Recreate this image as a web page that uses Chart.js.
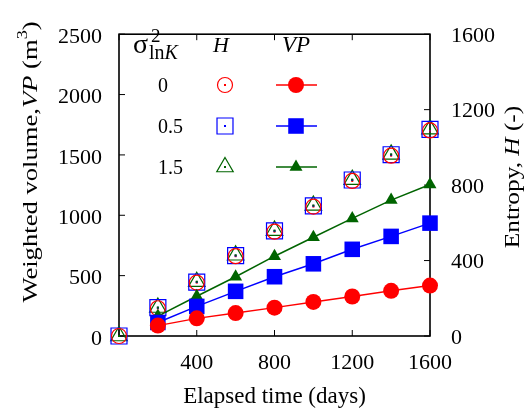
<!DOCTYPE html>
<html><head><meta charset="utf-8">
<script src="https://cdn.jsdelivr.net/npm/chart.js@4"></script>
<style>html,body{margin:0;padding:0;background:#fff}#w{width:531px;height:413px}</style>
</head><body><div id="w"><canvas id="c" width="531" height="413"></canvas></div>
<script>
// ---- data ----
const daysVP = [200,400,600,800,1000,1200,1400,1600];
const daysH  = [0,200,400,600,800,1000,1200,1400,1600];
const sigmaLabels = ['0','0.5','1.5'];
const vp0  = [86,146,190,235,282,327,374,418];
const vp05 = [112,245,370,491,598,718,825,935];
const vp15 = [165,329,491,661,818,974,1126,1255];
const h0   = [0,147,283,423,553,686,822,956,1090];
const h05  = [0,150,286,426,557,690,827,961,1095];
const h15  = [0,151,288,428,559,692,829,963,1097];
const xTicks  = [0,400,800,1200,1600];
const vpTicks = [0,500,1000,1500,2000,2500];
const hTicks  = [0,400,800,1200,1600];

const RED='#ff0000', BLUE='#0000ff', GREEN='#006400';
const SERIF="'Liberation Serif','Times New Roman',serif";
Chart.defaults.font.family = SERIF;
Chart.defaults.color = '#000';

const pts = (xs, ys) => xs.map((x,i)=>({x, y:ys[i]}));

function drawRuns(ctx, runs, x, y, align){
  let w=0;
  runs.forEach(r=>{ctx.font=r.f; r.w=ctx.measureText(r.t).width; w+=r.w;});
  let cx = align==='center' ? x-w/2 : x;
  ctx.textAlign='left';
  runs.forEach(r=>{ctx.font=r.f; ctx.fillText(r.t, cx, y+(r.dy||0)); cx+=r.w;});
}
function marker(ctx, style, x, y, r, color, filled){
  ctx.beginPath();
  if(style==='circle'){ ctx.arc(x,y,r,0,Math.PI*2); }
  else if(style==='rect'){ const s=r*Math.SQRT1_2; ctx.rect(x-s,y-s,2*s,2*s); }
  else { ctx.moveTo(x, y-r); ctx.lineTo(x+Math.sin(Math.PI*2/3)*r, y+0.5*r); ctx.lineTo(x-Math.sin(Math.PI*2/3)*r, y+0.5*r); ctx.closePath(); }
  if(filled){ ctx.fillStyle=color; ctx.fill(); }
  else { ctx.strokeStyle=color; ctx.lineWidth=1.2; ctx.stroke(); }
}

const deco = {
  id:'deco',
  beforeDatasetsDraw(chart){
    const {ctx, chartArea:a, scales} = chart;
    ctx.save();
    ctx.strokeStyle='#000';
    const line=(x1,y1,x2,y2)=>{ctx.beginPath();ctx.moveTo(x1,y1);ctx.lineTo(x2,y2);ctx.stroke();};
    ctx.lineWidth=1;
    const tl=6;
    xTicks.forEach(v=>{const x=scales.x.getPixelForValue(v); line(x,a.bottom,x,a.bottom-tl); line(x,a.top,x,a.top+tl);});
    vpTicks.forEach(v=>{const y=scales.y.getPixelForValue(v); line(a.left,y,a.left+tl,y);});
    hTicks.forEach(v=>{const y=scales.y1.getPixelForValue(v); line(a.right,y,a.right-tl,y);});
    ctx.lineWidth=1.6;
    ctx.strokeRect(a.left, a.top, a.right-a.left, a.bottom-a.top);
    ctx.restore();
  },
  afterDatasetsDraw(chart){
    const {ctx} = chart;
    ctx.save();
    // centre dots of open markers
    [3,4,5].forEach(i=>{
      const ds=chart.data.datasets[i];
      chart.getDatasetMeta(i).data.forEach(p=>{ctx.fillStyle=ds.borderColor; ctx.fillRect(p.x-1,p.y-1,2,2);});
    });
    ctx.fillStyle='#000';
    ctx.textBaseline='alphabetic';
    // legend header
    ctx.font='28px '+SERIF; ctx.textAlign='left'; ctx.fillText('σ',133,53);
    ctx.font='19px '+SERIF; ctx.fillText('2',151,42);
    drawRuns(ctx,[{t:'ln',f:'20px '+SERIF},{t:'K',f:'italic 20px '+SERIF}],149,59,'left');
    ctx.font='italic 22px '+SERIF; ctx.fillText('H',213,52);
    ctx.font='italic 23px '+SERIF; ctx.fillText('VP',282,52);
    const rows=[{y:85,c:RED,s:'circle',ro:7.5,rf:8},{y:126,c:BLUE,s:'rect',ro:11.3,rf:11},{y:167,c:GREEN,s:'triangle',ro:9.5,rf:7.5}];
    rows.forEach((r,i)=>{
      ctx.fillStyle='#000'; ctx.font='20px '+SERIF; ctx.textAlign='left';
      ctx.fillText(sigmaLabels[i],158,r.y+7);
      marker(ctx,r.s,225,r.y,r.ro,r.c,false);
      ctx.fillStyle=r.c; ctx.fillRect(224,r.y-1,2,2);
      ctx.strokeStyle=r.c; ctx.lineWidth=1.5; ctx.beginPath(); ctx.moveTo(276,r.y); ctx.lineTo(317,r.y); ctx.stroke();
      marker(ctx,r.s,296,r.y,r.rf,r.c,true);
    });
    ctx.fillStyle='#000';
    // x title
    ctx.font='23px '+SERIF; ctx.textAlign='center'; ctx.fillText('Elapsed time (days)',274.5,403);
    // left title
    ctx.save(); ctx.translate(37,162); ctx.rotate(-Math.PI/2); ctx.scale(1.21,1);
    drawRuns(ctx,[{t:'Weighted volume,',f:'22px '+SERIF},{t:'VP',f:'italic 22px '+SERIF},{t:' (m',f:'22px '+SERIF},{t:'3',f:'15px '+SERIF,dy:-10},{t:')',f:'22px '+SERIF}],0,0,'center');
    ctx.restore();
    // right title
    ctx.save(); ctx.translate(519,177); ctx.rotate(-Math.PI/2); ctx.scale(1.15,1);
    drawRuns(ctx,[{t:'Entropy, ',f:'22px '+SERIF},{t:'H',f:'italic 22px '+SERIF},{t:' (-)',f:'22px '+SERIF}],0,0,'center');
    ctx.restore();
    ctx.restore();
  }
};

const filled=(lbl,ys,c,s,r)=>({label:lbl,data:pts(daysVP,ys),yAxisID:'y',borderColor:c,backgroundColor:c,borderWidth:1.5,pointStyle:s,pointRadius:r,pointHoverRadius:r,pointBackgroundColor:c,pointBorderColor:c,pointBorderWidth:0,showLine:true,tension:0,clip:false});
const open=(lbl,ys,c,s,r)=>({label:lbl,data:pts(daysH,ys),yAxisID:'y1',borderColor:c,backgroundColor:'rgba(0,0,0,0)',pointStyle:s,pointRadius:r,pointHoverRadius:r,pointBackgroundColor:'rgba(0,0,0,0)',pointBorderColor:c,pointBorderWidth:1.2,showLine:false,clip:false});

new Chart(document.getElementById('c'),{
  type:'line',
  data:{datasets:[
    filled('VP 0',vp0,RED,'circle',8),
    filled('VP 0.5',vp05,BLUE,'rect',11),
    filled('VP 1.5',vp15,GREEN,'triangle',7.5),
    open('H 0',h0,RED,'circle',7.5),
    open('H 0.5',h05,BLUE,'rect',11.3),
    open('H 1.5',h15,GREEN,'triangle',9.5)
  ]},
  options:{
    responsive:false, animation:false, events:[],
    layout:{padding:{top:17,left:0,right:0,bottom:0}},
    plugins:{legend:{display:false},tooltip:{enabled:false}},
    scales:{
      x:{type:'linear',min:0,max:1600,
        afterBuildTicks:s=>{s.ticks=xTicks.map(v=>({value:v}));},
        afterFit:s=>{s.height=77;},
        grid:{display:false,drawTicks:false},border:{display:false},
        ticks:{autoSkip:false,maxRotation:0,padding:14,font:{size:22},callback:v=>v===0?'':String(v)}},
      y:{type:'linear',position:'left',min:0,max:2500,
        afterBuildTicks:s=>{s.ticks=vpTicks.map(v=>({value:v}));},
        afterFit:s=>{s.width=119;},
        grid:{display:false,drawTicks:false},border:{display:false},
        ticks:{autoSkip:false,padding:17,labelOffset:3,font:{size:22},callback:v=>String(v)}},
      y1:{type:'linear',position:'right',min:0,max:1600,
        afterBuildTicks:s=>{s.ticks=hTicks.map(v=>({value:v}));},
        afterFit:s=>{s.width=101;},
        grid:{display:false,drawTicks:false},border:{display:false},
        ticks:{autoSkip:false,padding:21,labelOffset:2,font:{size:22},callback:v=>String(v)}}
    }
  },
  plugins:[deco]
});
</script></body></html>
